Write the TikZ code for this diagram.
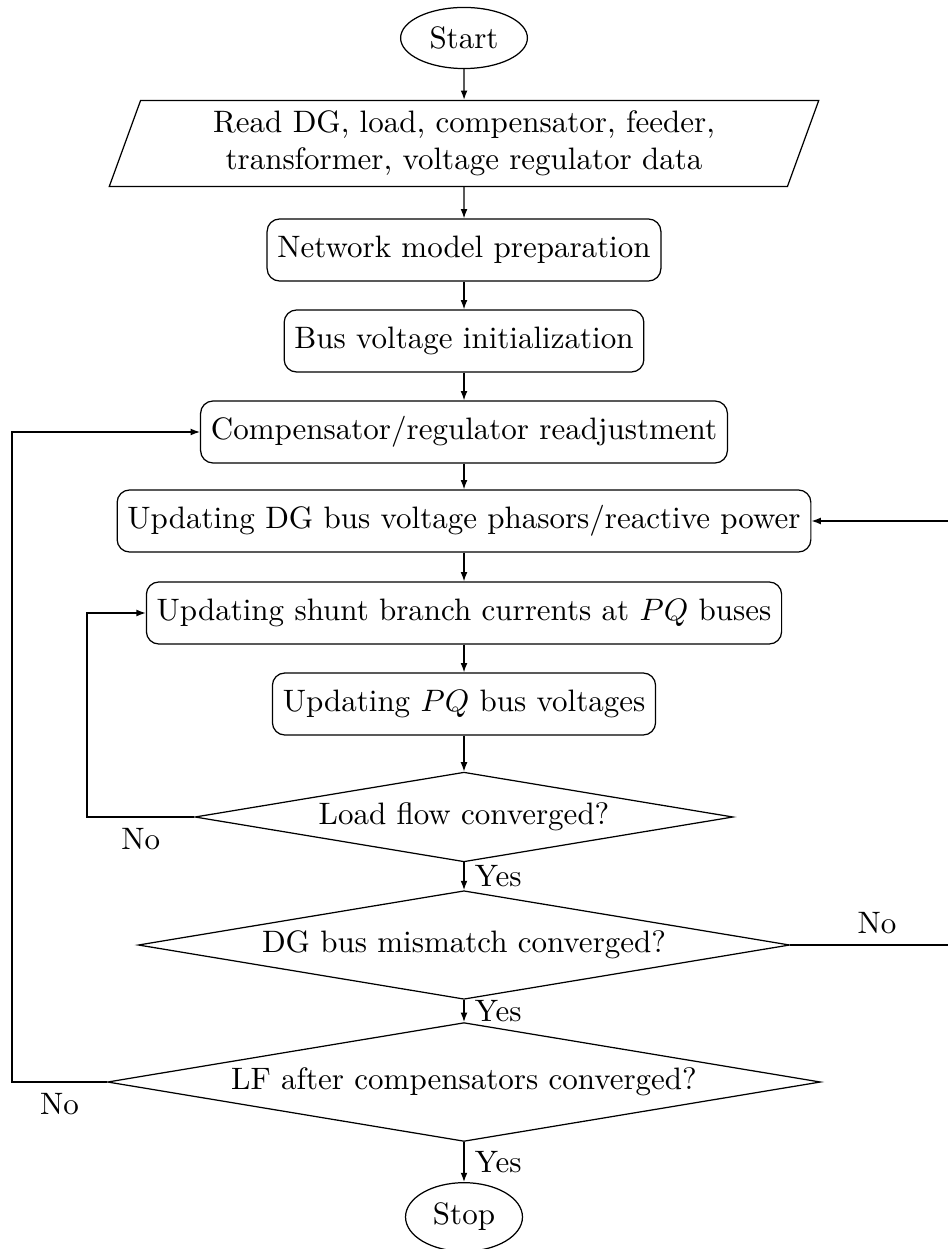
\documentclass[tikz,border=0pt]{standalone}
\usetikzlibrary{shapes.geometric,arrows.meta}
\begin{document}
\begin{tikzpicture}[x=0.3226pt,y=-0.3226pt,
  every node/.style={font=\fontsize{10}{12}\selectfont},
  line width=0.4pt,
  arr/.style={-{Latex[length=3pt,width=2.2pt]}},
  box/.style={draw,rounded corners=4pt,minimum height=2em,inner sep=.3333em},
  term/.style={draw,ellipse},
  io/.style={draw,trapezium,trapezium left angle=70,trapezium right angle=110,text width=202pt,align=center},
  dec/.style={draw,diamond,aspect=6,inner sep=1.8pt}]
\useasboundingbox (0,0) rectangle (948,1249);

\node[term] (start) at (464,38) {Start};
\node[io] (read) at (464,143.5) {Read DG, load, compensator, feeder,\\ transformer, voltage regulator data};
\node[box] (net) at (464,250) {Network model preparation};
\node[box] (bus) at (464,341) {Bus voltage initialization};
\node[box] (comp) at (464,432) {Compensator/regulator readjustment};
\node[box] (dg) at (464,521) {Updating DG bus voltage phasors/reactive power};
\node[box] (shunt) at (464,613) {Updating shunt branch currents at $PQ$ buses};
\node[box] (pq) at (464,704) {Updating $PQ$ bus voltages};
\node[dec] (d1) at (464,817) {Load flow converged?};
\node[dec] (d2) at (464,945) {DG bus mismatch converged?};
\node[dec] (d3) at (464,1082) {LF after compensators converged?};
\node[term] (stop) at (464,1217) {Stop};

\coordinate (l1) at (87,817);
\coordinate (r1) at (951,945);
\coordinate (l2) at (12,1082);

\draw[arr] (start) -- (read);
\draw[arr] (read) -- (net);
\draw[arr] (net) -- (bus);
\draw[arr] (bus) -- (comp);
\draw[arr] (comp) -- (dg);
\draw[arr] (dg) -- (shunt);
\draw[arr] (shunt) -- (pq);
\draw[arr] (pq) -- (d1);
\draw[arr] (d1) -- node[right] {Yes} (d2);
\draw[arr] (d2) -- node[right] {Yes} (d3);
\draw[arr] (d3) -- node[right] {Yes} (stop);

\draw[arr] (d1.west) -- node[below] {No} (l1) |- (shunt.west);
\draw[arr] (d2.east) -- node[above,xshift=2pt] {No} (r1) |- (dg.east);
\draw[arr] (d3.west) -- node[below] {No} (l2) |- (comp.west);
\end{tikzpicture}
\end{document}
